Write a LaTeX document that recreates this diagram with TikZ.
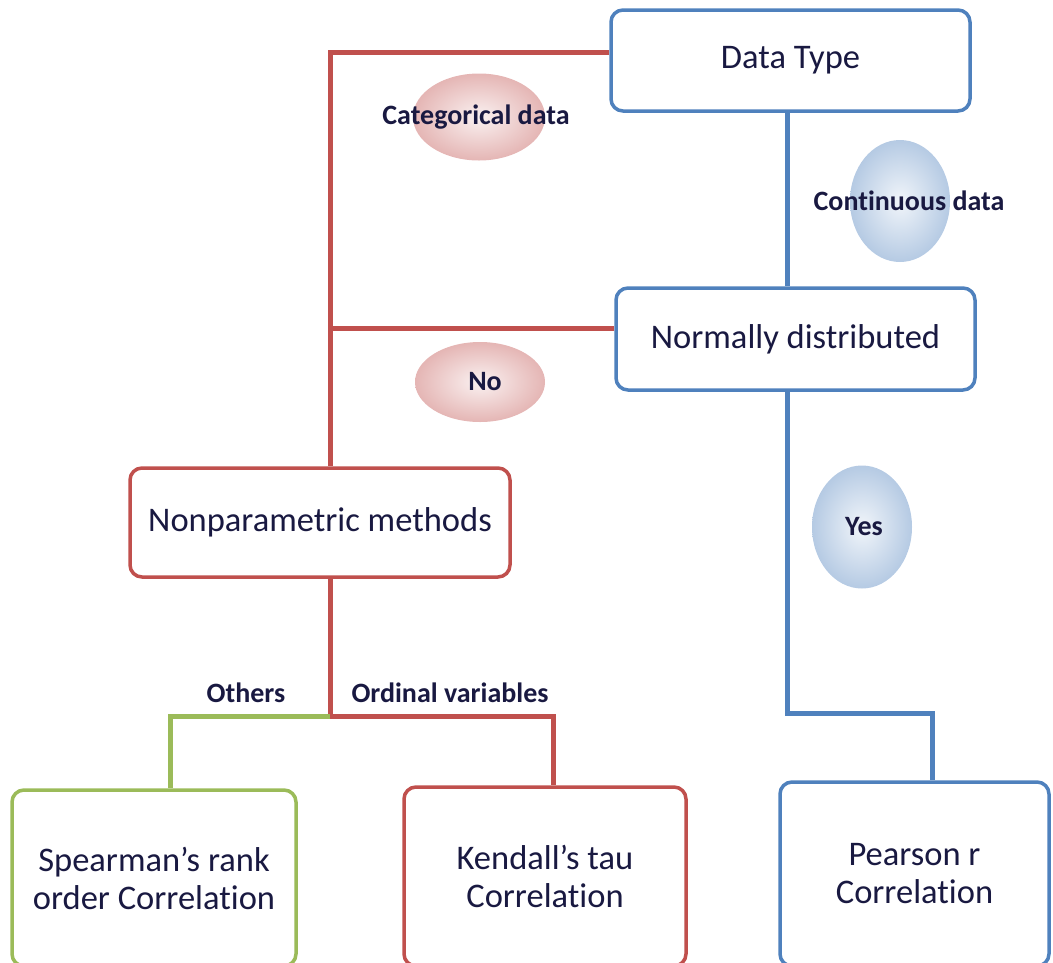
\documentclass[tikz,border=0pt]{standalone}
\usepackage{fontspec}
\setmainfont[Ligatures=NoCommon]{Carlito}
\usetikzlibrary{shapes.geometric, positioning, calc}
\definecolor{cBlue}{RGB}{79,129,189}
\definecolor{cRed}{RGB}{192,80,77}
\definecolor{cGreen}{RGB}{155,187,89}
\definecolor{cText}{RGB}{25,25,65}
\tikzset{
	box/.style      ={rectangle, rounded corners=12pt, line width=3.5pt, fill=white, align=center, text=cText, font=\fontsize{34.5}{38}\selectfont},
	bluebox/.style  ={box, draw=cBlue},
	redbox/.style   ={box, draw=cRed},
	greenbox/.style ={box, draw=cGreen},
	blueline/.style ={draw=cBlue, line width=5pt},
	redline/.style  ={draw=cRed, line width=5pt},
	greenline/.style={draw=cGreen, line width=5pt},
	% shaded ellipses carrying the branch labels
	blob/.style     ={ellipse, inner sep=0pt, label distance=0pt},
	redblob/.style  ={blob, inner color=cRed!8, outer color=cRed!42},
	blueblob/.style ={blob, inner color=cBlue!8, outer color=cBlue!42},
	lbl/.style      ={text=cText, font=\bfseries\fontsize{28}{32}\selectfont},
}
\begin{document}
\begin{tikzpicture}[x=1pt, y=-1pt]
	\useasboundingbox (0,0) rectangle (1053,962);
	\clip (0,0) rectangle (1053,962);
	% boxes
	\node[bluebox, minimum width=359pt, minimum height=101pt] (dtype) at (790.5,60.5) {Data Type};
	\node[bluebox, minimum width=359pt, minimum height=102pt] (normal) at (795.5,339) {Normally distributed};
	\node[redbox, minimum width=380pt, minimum height=109pt] (nonpar) at (320,522.5) {Nonparametric methods};
	\node[greenbox, minimum width=284pt, minimum height=176pt] (spear) at (154,878) {Spearman's rank\\order Correlation};
	\node[redbox, minimum width=282pt, minimum height=179pt] (kendall) at (545,876.5) {Kendall's tau\\Correlation};
	\node[bluebox, minimum width=269pt, minimum height=184pt] (pearson) at (914.5,874) {Pearson r\\Correlation};
	% connector points
	\coordinate (spine) at ([xshift=10pt]nonpar.north);
	\coordinate (nj) at ([yshift=11pt]normal.west);
	\coordinate (kj) at ([xshift=8pt]kendall.north);
	\coordinate (sj) at ([xshift=16pt]spear.north);
	\coordinate (pj) at ([xshift=17.5pt]pearson.north);
	% connectors
	\draw[redline] ([yshift=8pt]dtype.west) -| (spine);
	\draw[redline] (nj) -- (nj -| spine);
	\draw[blueline] ([xshift=-3.5pt]dtype.south) -- ([xshift=-3.5pt]dtype.south |- normal.north);
	\draw[blueline] ([xshift=-8.5pt]normal.south) -- ++(0,322) -| (pj);
	\draw[redline] ([xshift=10pt]nonpar.south) -- ++(0,138) coordinate (bj) -| (kj);
	\draw[greenline] (bj) -| (sj);
	% branch labels
	\node[redblob, minimum width=132pt, minimum height=87pt, label={[lbl, xshift=-3pt]center:Categorical data}] (cat) at (479,117) {};
	\node[blueblob, minimum width=100pt, minimum height=122pt, label={[lbl, xshift=9pt]center:Continuous data}] (cont) at (900,201) {};
	\node[redblob, minimum width=130pt, minimum height=80pt, label={[lbl, xshift=5pt]center:No}] (no) at (480,382) {};
	\node[blueblob, minimum width=100pt, minimum height=123pt, label={[lbl, xshift=2pt]center:Yes}] (yes) at (862,527) {};
	\node[lbl] (others) at (246,693) {Others};
	\node[lbl] (ordinal) at (450,693) {Ordinal variables};
\end{tikzpicture}
\end{document}
